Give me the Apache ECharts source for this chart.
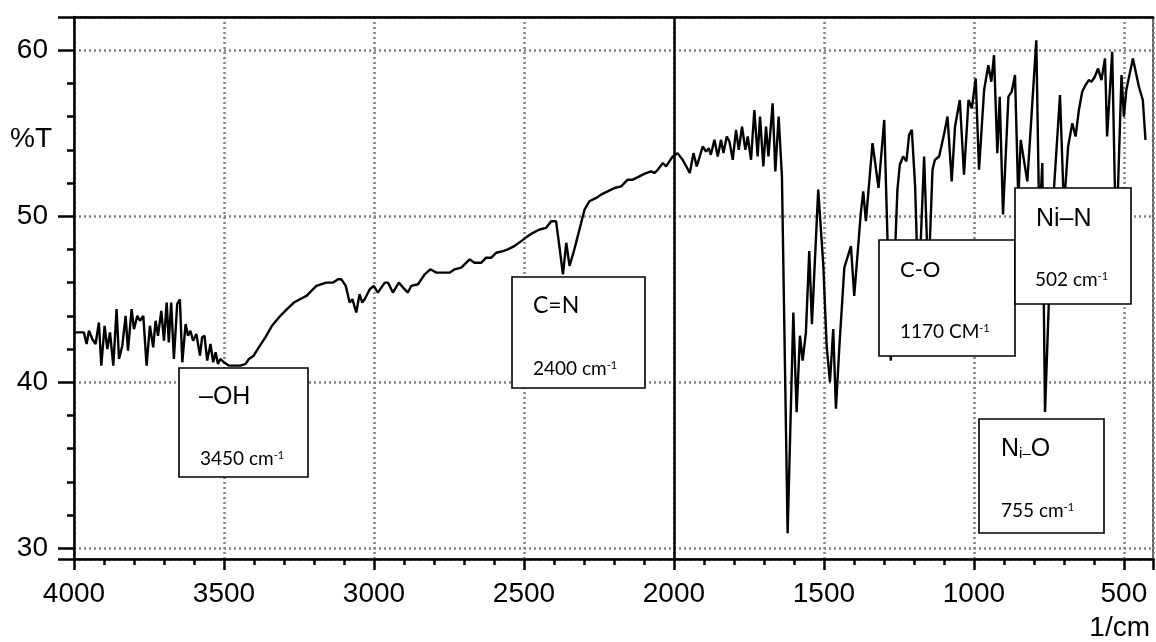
<!DOCTYPE html>
<html>
<head>
<meta charset="utf-8">
<title>FTIR %T</title>
<script src="https://cdn.jsdelivr.net/npm/echarts@6/dist/echarts.min.js"></script>
<style>
html, body { margin: 0; padding: 0; background: #fff; }
#main { width: 1156px; height: 642px; }
</style>
</head>
<body>
<div id="main"></div>
<script>
// [wavenumber 1/cm, %T], high to low
var bandOH = [
    [4000, 43.0], [3967, 43.0], [3958, 42.3], [3950, 43.1], [3939, 42.6], [3928, 42.3], [3917, 43.6], [3909, 41.0],
    [3898, 43.4], [3889, 42.0], [3880, 43.0], [3869, 41.0], [3858, 44.4], [3850, 41.4], [3839, 42.2], [3828, 44.0],
    [3820, 41.9], [3808, 44.4], [3800, 43.2], [3789, 44.0], [3780, 43.7], [3769, 44.0], [3758, 41.0], [3747, 43.4],
    [3736, 42.1], [3728, 43.7], [3720, 42.8], [3709, 44.3], [3700, 42.5], [3691, 44.8], [3684, 42.4], [3676, 44.8],
    [3667, 41.4], [3656, 44.7], [3647, 45.0], [3639, 41.2], [3628, 43.5], [3620, 42.8], [3612, 43.1], [3603, 42.5],
    [3592, 42.9], [3580, 41.6], [3573, 42.7], [3565, 42.8], [3556, 41.3], [3545, 42.3], [3536, 41.2], [3528, 41.8],
    [3520, 41.1], [3512, 41.4], [3500, 41.2], [3484, 41.0], [3467, 41.0], [3456, 41.0], [3445, 41.0], [3428, 41.1],
    [3417, 41.4], [3401, 41.6], [3384, 42.1], [3362, 42.7], [3340, 43.4], [3312, 44.0], [3290, 44.4], [3267, 44.8]
];
var bandCN = [
    [3247, 45.0], [3225, 45.2], [3192, 45.8], [3159, 46.0], [3136, 46.0], [3120, 46.2], [3109, 46.2], [3094, 45.8],
    [3081, 44.8], [3072, 45.0], [3059, 44.2], [3048, 45.3], [3039, 44.8], [3031, 45.0], [3014, 45.6], [3001, 45.8],
    [2987, 45.4], [2964, 46.0], [2953, 46.0], [2937, 45.4], [2917, 46.0], [2903, 45.7], [2887, 45.4], [2876, 45.8],
    [2853, 45.9], [2831, 46.5], [2812, 46.8], [2792, 46.6], [2748, 46.6], [2731, 46.8], [2709, 46.9], [2681, 47.4],
    [2665, 47.2], [2642, 47.2], [2626, 47.5], [2609, 47.5], [2592, 47.8], [2570, 47.9], [2554, 48.0], [2532, 48.2],
    [2509, 48.5], [2487, 48.8], [2470, 49.0], [2448, 49.2], [2426, 49.3], [2409, 49.7], [2393, 49.7], [2382, 48.2],
    [2370, 46.5], [2359, 48.4], [2348, 47.0], [2332, 48.0], [2315, 49.2], [2298, 50.4], [2282, 50.9], [2259, 51.1],
    [2243, 51.3], [2221, 51.5], [2198, 51.7], [2176, 51.8], [2154, 52.2], [2137, 52.2], [2115, 52.4], [2093, 52.6],
    [2076, 52.7], [2065, 52.6], [2054, 52.8], [2037, 53.2], [2026, 53.0], [2004, 53.6]
];
var bandCarbonyl = [
    [1988, 53.8], [1971, 53.4], [1947, 52.6], [1935, 53.8], [1924, 53.0], [1904, 54.2], [1893, 53.9], [1884, 54.1],
    [1877, 53.7], [1865, 54.6], [1854, 53.6], [1843, 54.6], [1835, 53.8], [1824, 54.8], [1815, 54.5], [1804, 53.4],
    [1793, 55.2], [1784, 54.0], [1773, 55.4], [1762, 54.0], [1754, 54.8], [1743, 53.4], [1732, 56.4], [1721, 53.6],
    [1713, 56.0], [1702, 53.0], [1693, 55.4], [1685, 53.6], [1671, 56.8], [1662, 52.7], [1651, 56.0], [1640, 52.4],
    [1621, 30.9], [1602, 44.2], [1591, 38.2], [1580, 42.8], [1571, 41.3], [1560, 43.0], [1549, 47.9], [1540, 43.5],
    [1519, 51.6], [1502, 47.0], [1491, 42.2], [1480, 40.0], [1469, 43.2], [1460, 38.4], [1449, 42.0]
];
var bandFinger = [
    [1432, 46.9], [1410, 48.2], [1399, 45.2], [1377, 50.2], [1369, 51.5], [1360, 49.7], [1338, 54.4], [1318, 51.7],
    [1299, 55.8], [1277, 41.3], [1255, 51.6], [1247, 53.1], [1236, 53.6], [1225, 53.3], [1216, 54.9], [1207, 55.2],
    [1196, 51.8], [1185, 45.0], [1166, 53.6], [1152, 46.0], [1138, 52.8], [1130, 53.4], [1116, 53.6], [1100, 54.9],
    [1088, 56.0], [1074, 52.1], [1063, 55.4], [1047, 57.0], [1033, 52.5], [1018, 57.0], [1007, 56.5], [994, 58.3],
    [983, 52.8], [966, 57.6], [952, 59.1], [942, 58.1], [933, 59.7], [922, 53.8], [914, 57.2], [903, 50.1],
    [885, 57.2], [874, 57.5], [863, 58.5], [852, 51.0], [844, 54.6], [822, 52.1], [792, 60.6], [782, 49.5],
    [772, 53.2], [763, 38.2], [748, 46.0], [733, 51.7], [713, 57.3], [700, 50.5], [686, 54.2], [672, 55.6],
    [661, 54.8], [650, 56.4], [639, 57.5], [628, 57.9], [617, 58.2], [608, 58.1], [597, 58.4], [586, 58.9],
    [575, 58.2], [563, 59.5], [556, 54.8], [539, 59.9], [526, 48.0], [508, 58.5], [500, 56.0], [492, 57.6],
    [470, 59.5], [450, 57.8], [437, 57.0], [428, 54.6]
];
var spectrum = bandOH.concat(bandCN, bandCarbonyl, bandFinger);

var waveMin = 403;
var waveMax = 4000;
var tMin = 29.35;
var tMax = 62;

var myChart = echarts.init(document.getElementById('main'));

var armFont = "'Liberation Sans', Arial, sans-serif";
var caliFont = "Lato, 'Open Sans', sans-serif";
var gridDot = { color: '#808080', width: 2.5, type: [2, 3] };
var blackLine = { color: '#000', width: 2.5 };

function supRich() {
    return {
        sup: { fontSize: 11, fontFamily: caliFont, fill: '#000', verticalAlign: 'top', lineHeight: 12 },
        sub: { fontSize: 15, fontFamily: armFont, fill: '#000', verticalAlign: 'bottom', lineHeight: 14 }
    };
}

function txt(x, y, text, size, family) {
    return {
        type: 'text',
        z: 101,
        x: x,
        y: y,
        style: {
            text: text,
            fontSize: size,
            fontFamily: family,
            fill: '#000',
            align: 'left',
            verticalAlign: 'middle',
            textAlign: 'left',
            textVerticalAlign: 'middle',
            rich: supRich()
        }
    };
}

// boxed peak note: x, y, w, h in px of the picture
function tagBox(x, y, w, h, kids) {
    var list = [{
        type: 'rect',
        z: 100,
        shape: { x: x, y: y, width: w, height: h },
        style: { fill: '#fff', stroke: '#000', lineWidth: 1.6 }
    }];
    return { type: 'group', z: 100, children: list.concat(kids) };
}

var option = {
    animation: false,
    backgroundColor: '#fff',
    grid: {
        left: 74,
        right: 2,
        top: 17,
        bottom: 83,
        show: true,
        borderColor: '#000',
        borderWidth: 1.2
    },
    xAxis: [{
        type: 'value',
        inverse: true,
        min: waveMin,
        max: waveMax,
        splitNumber: 7,
        axisLine: { show: true, onZero: false, lineStyle: blackLine },
        axisTick: { show: true, length: 11, lineStyle: blackLine },
        minorTick: { show: true, splitNumber: 5, length: 6, lineStyle: blackLine },
        axisLabel: {
            margin: 21,
            color: '#000',
            fontSize: 28,
            fontFamily: armFont,
            formatter: function (v) {
                return v % 500 === 0 ? String(v) : '';
            }
        },
        splitLine: { show: true, lineStyle: gridDot }
    }, {
        type: 'value',
        position: 'top',
        inverse: true,
        min: waveMin,
        max: waveMax,
        axisLine: { show: true, onZero: false, lineStyle: blackLine },
        axisTick: { show: false },
        axisLabel: { show: false },
        splitLine: { show: false }
    }],
    yAxis: {
        type: 'value',
        min: tMin,
        max: tMax,
        splitNumber: 3,
        axisLine: { show: true, onZero: false, lineStyle: blackLine },
        axisTick: { show: true, length: 16, lineStyle: blackLine },
        minorTick: { show: true, splitNumber: 5, length: 7, lineStyle: blackLine },
        axisLabel: {
            margin: 26,
            color: '#000',
            fontSize: 28,
            fontFamily: armFont,
            formatter: function (v) {
                return Math.abs(v % 10) < 1e-6 ? String(v) : '';
            }
        },
        splitLine: { show: true, lineStyle: gridDot }
    },
    series: [{
        type: 'line',
        xAxisIndex: 0,
        z: 3,
        data: spectrum,
        symbol: 'none',
        showSymbol: false,
        lineStyle: { color: '#000', width: 2.4 },
        markLine: {
            silent: true,
            symbol: ['none', 'none'],
            label: { show: false },
            lineStyle: { color: '#000', type: 'solid', width: 2.5 },
            data: [{ xAxis: 2000 }]
        }
    }],
    graphic: [
        txt(10, 139, '%T', 28, armFont),
        {
            type: 'text',
            x: 1150,
            y: 628,
            style: {
                text: '1/cm', fontSize: 28, fontFamily: armFont, fill: '#000',
                align: 'right', verticalAlign: 'middle', textAlign: 'right', textVerticalAlign: 'middle'
            }
        },
        tagBox(179, 368, 129, 109, [
            txt(199, 397, '\u2013OH', 25, armFont),
            txt(200, 459, '3450 cm{sup|-1}', 19, caliFont)
        ]),
        tagBox(512, 277, 133, 111, [
            txt(533, 306, 'C=N', 23, caliFont),
            txt(533, 369, '2400 cm{sup|-1}', 19, caliFont)
        ]),
        tagBox(879, 240, 136, 116, [
            txt(900, 270, 'C-O', 22, caliFont),
            txt(900, 332, '1170 CM{sup|-1}', 19, caliFont)
        ]),
        tagBox(1015, 188, 116, 116, [
            txt(1036, 219, 'Ni\u2013N', 25, armFont),
            txt(1035, 280, '502 cm{sup|-1}', 19, caliFont)
        ]),
        tagBox(979, 419, 125, 114, [
            txt(1001, 449, 'N{sub|i\u2013}O', 25, armFont),
            txt(1001, 511, '755 cm{sup|-1}', 19, caliFont)
        ])
    ]
};

myChart.setOption(option);
window.onresize = myChart.resize;
</script>
</body>
</html>
